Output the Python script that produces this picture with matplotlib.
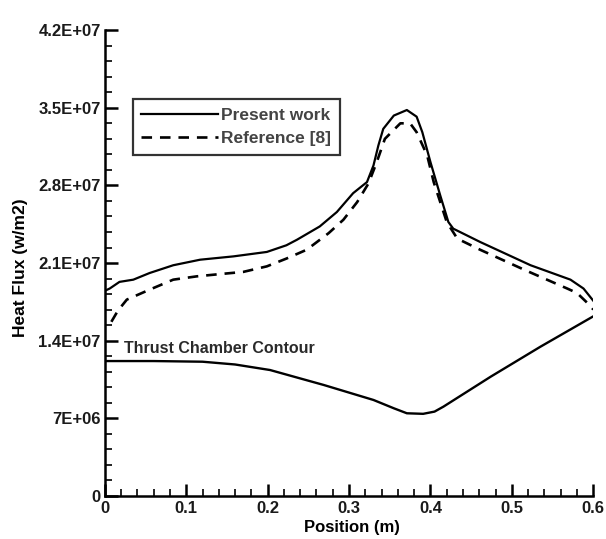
import matplotlib
matplotlib.use("Agg")
import matplotlib.pyplot as plt
from matplotlib.ticker import MultipleLocator, FixedLocator

plt.rcParams['font.family'] = ['Liberation Sans', 'DejaVu Sans']

# Present work (solid)
present_x = [0.0, 0.006, 0.018, 0.035, 0.055, 0.084, 0.117, 0.158, 0.199, 0.223, 0.236,
             0.264, 0.285, 0.305, 0.322, 0.33, 0.336, 0.342, 0.355, 0.371, 0.383, 0.39,
             0.40, 0.412, 0.422, 0.428, 0.461, 0.523, 0.572, 0.588, 0.60]
present_y = [1.85e7, 1.87e7, 1.93e7, 1.95e7, 2.01e7, 2.08e7, 2.13e7, 2.16e7, 2.20e7, 2.26e7, 2.31e7,
             2.43e7, 2.56e7, 2.73e7, 2.83e7, 2.98e7, 3.16e7, 3.31e7, 3.43e7, 3.48e7, 3.42e7, 3.28e7,
             3.01e7, 2.71e7, 2.47e7, 2.41e7, 2.29e7, 2.08e7, 1.95e7, 1.87e7, 1.76e7]

# Reference [8] (dashed)
ref_x = [0.008, 0.016, 0.027, 0.055, 0.084, 0.113, 0.141, 0.17, 0.199, 0.223, 0.248,
         0.275, 0.293, 0.31, 0.324, 0.334, 0.344, 0.363, 0.375, 0.383, 0.396, 0.404,
         0.412, 0.42, 0.433, 0.461, 0.515, 0.568, 0.58, 0.597, 0.60]
ref_y = [1.57e7, 1.67e7, 1.77e7, 1.86e7, 1.95e7, 1.98e7, 2.0e7, 2.02e7, 2.07e7, 2.14e7, 2.22e7,
         2.37e7, 2.49e7, 2.65e7, 2.82e7, 3.01e7, 3.22e7, 3.36e7, 3.36e7, 3.28e7, 3.07e7, 2.83e7,
         2.65e7, 2.47e7, 2.32e7, 2.22e7, 2.04e7, 1.87e7, 1.83e7, 1.71e7, 1.68e7]

# Thrust chamber contour (solid)
contour_x = [0.0, 0.06, 0.12, 0.16, 0.203, 0.269, 0.33, 0.355, 0.371, 0.391, 0.405,
             0.416, 0.474, 0.535, 0.599]
contour_y = [1.216e7, 1.216e7, 1.21e7, 1.185e7, 1.135e7, 1.0e7, 8.65e6, 7.9e6, 7.45e6, 7.4e6, 7.6e6,
             8.05e6, 1.075e7, 1.345e7, 1.615e7]

x_ticks = [0, 0.1, 0.2, 0.3, 0.4, 0.5, 0.6]
x_tick_labels = ["0", "0.1", "0.2", "0.3", "0.4", "0.5", "0.6"]
y_ticks = [0, 7e6, 1.4e7, 2.1e7, 2.8e7, 3.5e7, 4.2e7]
y_tick_labels = ["0", "7E+06", "1.4E+07", "2.1E+07", "2.8E+07", "3.5E+07", "4.2E+07"]

fig = plt.figure(figsize=(6.06, 5.39), dpi=100)
ax = fig.add_axes([0.173, 0.080, 0.806, 0.864])

ax.plot(present_x, present_y, color='black', lw=1.6, label='Present work')
ax.plot(ref_x, ref_y, color='black', lw=1.9, dashes=(4, 3), label='Reference [8]')
ax.plot(contour_x, contour_y, color='black', lw=1.7)

ax.text(0.023, 1.33e7, "Thrust Chamber Contour", fontsize=11.5, fontweight='bold',
        color='#2a2a2a', va='center', ha='left')

ax.set_xlim(0, 0.6)
ax.set_ylim(0, 4.2e7)
ax.xaxis.set_major_locator(FixedLocator(x_ticks))
ax.set_xticklabels(x_tick_labels)
ax.yaxis.set_major_locator(FixedLocator(y_ticks))
ax.set_yticklabels(y_tick_labels)
ax.xaxis.set_minor_locator(MultipleLocator(0.02))
ax.yaxis.set_minor_locator(MultipleLocator(1.4e6))

for s in ['top', 'right']:
    ax.spines[s].set_visible(False)
for s in ['left', 'bottom']:
    ax.spines[s].set_linewidth(1.8)

ax.tick_params(axis='both', which='major', direction='in', length=9, width=1.8,
               labelsize=12, pad=3)
ax.tick_params(axis='x', which='major', pad=4)
ax.tick_params(axis='both', which='minor', direction='in', length=5, width=1.2)
for lab in ax.get_xticklabels() + ax.get_yticklabels():
    lab.set_fontweight('bold')
    lab.set_color('#1a1a1a')

ax.set_xlabel("Position (m)", fontsize=12, fontweight='bold')
ax.set_ylabel("Heat Flux (w/m2)", fontsize=12.5, fontweight='bold')
ax.xaxis.set_label_coords(0.506, -0.052)
ax.yaxis.set_label_coords(-0.157, 0.49)

leg = ax.legend(loc='upper left', bbox_to_anchor=(0.057, 0.852), frameon=True,
                fancybox=False, edgecolor='black', fontsize=12.5, handlelength=4.4,
                handletextpad=0.2, borderpad=0.5, labelspacing=0.45, borderaxespad=0)
leg.get_frame().set_linewidth(1.6)
for t in leg.get_texts():
    t.set_fontweight('bold')
    t.set_color('#444444')

fig.savefig("out.png", dpi=100)
